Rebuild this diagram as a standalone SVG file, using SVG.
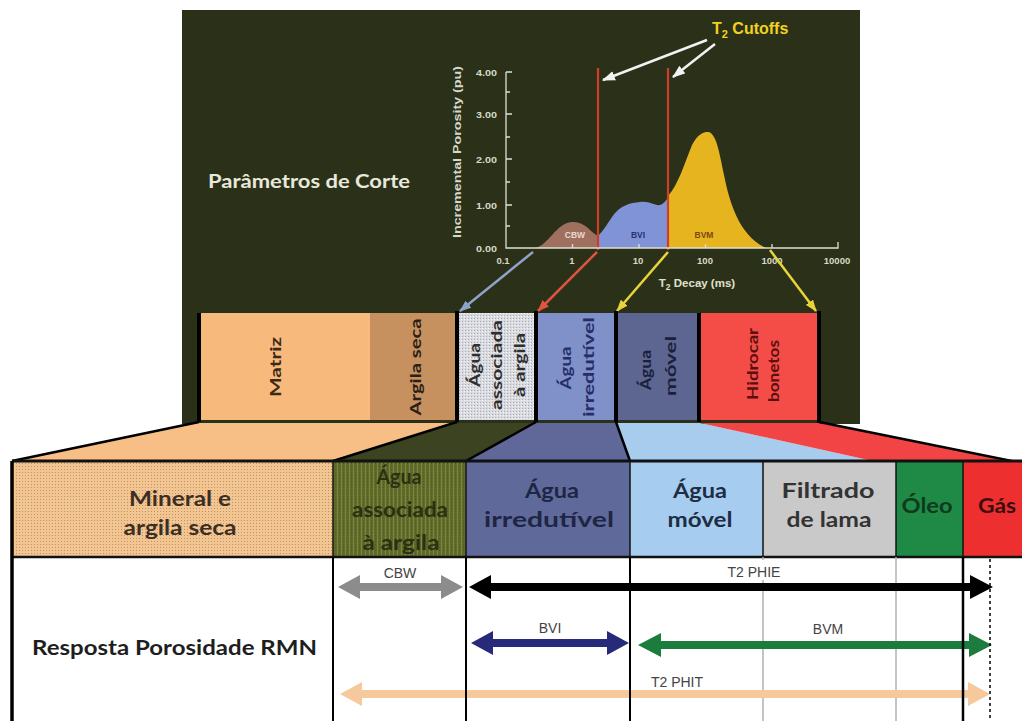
<svg xmlns="http://www.w3.org/2000/svg" width="1022" height="721" viewBox="0 0 1022 721">
<style>
.lb{font-family:Lato,"Open Sans",sans-serif;font-weight:700}
.ch{font-family:"Liberation Sans",Arial,sans-serif;font-weight:700}
.ar{font-family:"Liberation Sans",Arial,sans-serif;font-size:14px;fill:#444}
.vt{font-size:16px;text-anchor:middle}
.bt{font-size:20px;text-anchor:middle}
.tick{stroke:#e0e0d0;stroke-width:1.3;fill:none}
.sep{stroke:#000;stroke-width:4}
.edge{stroke:#000;stroke-width:2.5;fill:none}
</style>
<defs>
<pattern id="pMin" width="3" height="3" patternUnits="userSpaceOnUse"><rect width="3" height="3" fill="#f3c590"/><rect x="1" y="1" width="1" height="1" fill="#b8926a"/></pattern>
<pattern id="pAssoc" width="4" height="3" patternUnits="userSpaceOnUse"><rect width="4" height="3" fill="#5f6a2b"/><rect x="1" width="1" height="3" fill="#7c873c"/><rect x="3" y="1" width="1" height="1" fill="#4e5822"/></pattern>
<pattern id="pGray" width="3" height="3" patternUnits="userSpaceOnUse"><rect width="3" height="3" fill="#dadbe0"/><rect width="1" height="1" fill="#a9abb4"/><rect x="2" y="1" width="1" height="1" fill="#f4f4f6"/></pattern>
<marker id="mW" viewBox="0 0 12 9" refX="11" refY="4.5" markerWidth="13" markerHeight="10" markerUnits="userSpaceOnUse" orient="auto"><path d="M0,0 L12,4.5 L0,9 z" fill="#f2f2f2"/></marker>
<marker id="mB" viewBox="0 0 12 9" refX="11" refY="4.5" markerWidth="12" markerHeight="9" markerUnits="userSpaceOnUse" orient="auto"><path d="M0,0 L12,4.5 L0,9 z" fill="#8ea2cc"/></marker>
<marker id="mR" viewBox="0 0 12 9" refX="11" refY="4.5" markerWidth="12" markerHeight="9" markerUnits="userSpaceOnUse" orient="auto"><path d="M0,0 L12,4.5 L0,9 z" fill="#df5440"/></marker>
<marker id="mY" viewBox="0 0 12 9" refX="11" refY="4.5" markerWidth="12" markerHeight="9" markerUnits="userSpaceOnUse" orient="auto"><path d="M0,0 L12,4.5 L0,9 z" fill="#e8d43a"/></marker>
</defs>
<rect width="1022" height="721" fill="#fff"/>
<rect id="panel" x="182" y="10" width="678" height="414" fill="#2b3119"/>
<text class="lb" x="208" y="188" font-size="18" fill="#e8e8dc" textLength="202" lengthAdjust="spacingAndGlyphs">Parâmetros de Corte</text>

<g id="chart">
<path d="M535,248 C548,246 556,223 572,222 C585,221 590,232 598,236 L598,248 Z" fill="#a0705f"/>
<path d="M598,248 L598,236 C603,231 606,226 612,217 C620,205 630,203 640,202 C650,201 655,206 660,205 C664,204 666,200 668,198 L668,248 Z" fill="#7f93d6"/>
<path d="M668,248 L668,196 C678,185 684,165 692,145 C698,134 703,132 708,132 C716,133 719,150 724,175 C730,205 740,236 766,248 Z" fill="#e6b41f"/>
<line x1="598" y1="68" x2="598" y2="250" stroke="#cf3d2b" stroke-width="2.2"/>
<line x1="668" y1="68" x2="668" y2="250" stroke="#cf3d2b" stroke-width="2.2"/>
<path class="tick" d="M506,72 V248 H838 V242 M506,72 H512 M506,92 H510 M506,114 H512 M506,137 H510 M506,159 H512 M506,182 H510 M506,205 H512 M506,226 H510 M572.5,248 V244 M639,248 V244 M705.5,248 V244 M772,248 V244"/>
<g class="ch" font-size="9.5" fill="#d8d8c8" text-anchor="end">
<text x="497" y="76" textLength="21" lengthAdjust="spacingAndGlyphs">4.00</text><text x="497" y="118" textLength="21" lengthAdjust="spacingAndGlyphs">3.00</text><text x="497" y="163" textLength="21" lengthAdjust="spacingAndGlyphs">2.00</text><text x="497" y="209" textLength="21" lengthAdjust="spacingAndGlyphs">1.00</text><text x="497" y="252" textLength="21" lengthAdjust="spacingAndGlyphs">0.00</text>
</g>
<g class="ch" font-size="9.5" fill="#d8d8c8" text-anchor="middle">
<text x="503" y="264">0.1</text><text x="572" y="264">1</text><text x="638" y="264">10</text><text x="705" y="264">100</text><text x="772" y="264">1000</text><text x="837" y="264">10000</text>
</g>
<text class="ch" font-size="10" fill="#d8d8c8" text-anchor="middle" transform="translate(461,152) rotate(-90)" textLength="172" lengthAdjust="spacingAndGlyphs">Incremental Porosity (pu)</text>
<text class="ch" font-size="11.5" fill="#e0e0d0" text-anchor="middle" x="697" y="287">T<tspan font-size="8.5" dy="3">2</tspan><tspan dy="-3"> Decay (ms)</tspan></text>
<text class="ch" font-size="8.5" fill="#ead8d0" text-anchor="middle" x="575" y="238">CBW</text>
<text class="ch" font-size="8.5" fill="#2a3270" text-anchor="middle" x="638" y="238">BVI</text>
<text class="ch" font-size="8.5" fill="#7a4a10" text-anchor="middle" x="704" y="238">BVM</text>
<text class="ch" font-size="16" fill="#f2d21e" x="712" y="34">T<tspan font-size="11" dy="4">2</tspan><tspan dy="-4"> Cutoffs</tspan></text>
</g>

<g id="connectors">
<line x1="707" y1="40" x2="603" y2="80" stroke="#f2f2f2" stroke-width="2.5" marker-end="url(#mW)"/>
<line x1="715" y1="44" x2="673" y2="77" stroke="#f2f2f2" stroke-width="2.5" marker-end="url(#mW)"/>
<line x1="533" y1="252" x2="460" y2="311" stroke="#8ea2cc" stroke-width="2.5" marker-end="url(#mB)"/>
<line x1="597" y1="252" x2="538" y2="311" stroke="#df5440" stroke-width="2.5" marker-end="url(#mR)"/>
<line x1="668" y1="252" x2="617" y2="311" stroke="#e8d43a" stroke-width="2.5" marker-end="url(#mY)"/>
<line x1="770" y1="250" x2="816" y2="311" stroke="#e8d43a" stroke-width="2.5" marker-end="url(#mY)"/>
</g>

<g id="box-matriz"><rect x="197" y="313" width="173" height="107" fill="#f7b97c"/>
<text class="lb vt" fill="#3a2a18" transform="translate(281,367) rotate(-90)" textLength="60" lengthAdjust="spacingAndGlyphs">Matriz</text></g>
<g id="box-argila"><rect x="370" y="313" width="86" height="107" fill="#c6915e"/>
<text class="lb vt" fill="#2a2018" transform="translate(421,367) rotate(-90)" textLength="97" lengthAdjust="spacingAndGlyphs">Argila seca</text></g>
<g id="box-assoc"><rect x="456" y="313" width="80" height="107" fill="url(#pGray)"/>
<text class="lb vt" fill="#2e2e2e" transform="translate(480,365) rotate(-90)" textLength="44" lengthAdjust="spacingAndGlyphs">Água</text>
<text class="lb vt" fill="#2e2e2e" transform="translate(502,365) rotate(-90)" textLength="90" lengthAdjust="spacingAndGlyphs">associada</text>
<text class="lb vt" fill="#2e2e2e" transform="translate(525,365) rotate(-90)" textLength="64" lengthAdjust="spacingAndGlyphs">à argila</text></g>
<g id="box-irred"><rect x="536" y="313" width="80" height="107" fill="#8090c8"/>
<text class="lb vt" fill="#262e6a" transform="translate(571,368) rotate(-90)" textLength="43" lengthAdjust="spacingAndGlyphs">Água</text>
<text class="lb vt" fill="#262e6a" transform="translate(594,367) rotate(-90)" textLength="100" lengthAdjust="spacingAndGlyphs">irredutível</text></g>
<g id="box-movel"><rect x="616" y="313" width="83" height="107" fill="#5d6591"/>
<text class="lb vt" fill="#1b1f3a" transform="translate(651,370) rotate(-90)" textLength="40" lengthAdjust="spacingAndGlyphs">Água</text>
<text class="lb vt" fill="#1b1f3a" transform="translate(676,366) rotate(-90)" textLength="60" lengthAdjust="spacingAndGlyphs">móvel</text></g>
<g id="box-hidro"><rect x="699" y="313" width="120" height="107" fill="#f44c47"/>
<text class="lb vt" fill="#5a1010" transform="translate(758,364) rotate(-90)" textLength="72" lengthAdjust="spacingAndGlyphs">Hidrocar</text>
<text class="lb vt" fill="#5a1010" transform="translate(779,371) rotate(-90)" textLength="62" lengthAdjust="spacingAndGlyphs">bonetos</text></g>
<g id="box-seps">
<line class="sep" x1="199" y1="313" x2="199" y2="422" stroke-width="5"/>
<line class="sep" x1="457" y1="311" x2="457" y2="422"/>
<line class="sep" x1="536" y1="311" x2="536" y2="422"/>
<line class="sep" x1="616" y1="311" x2="616" y2="422"/>
<line class="sep" x1="699" y1="313" x2="699" y2="422" stroke-width="2.5" stroke="#1a1a1a"/>
<line class="sep" x1="819" y1="311" x2="819" y2="424" stroke-width="5"/>
</g>

<g id="trapezoids">
<polygon points="197,423 457,423 333,461 12,461" fill="#f7bf85"/>
<polygon points="457,423 536,423 466,461 333,461" fill="#3b4320"/>
<polygon points="536,423 616,423 630,461 466,461" fill="#5f6898"/>
<polygon points="616,423 700,423 873,461 630,461" fill="#a8ccee"/>
<polygon points="700,423 819,423 1022,462 1022,461 873,461" fill="#f24444"/>
<line class="edge" x1="199" y1="422" x2="12" y2="461" stroke-width="3"/>
<line class="edge" x1="457" y1="422" x2="333" y2="461"/>
<line class="edge" x1="536" y1="422" x2="466" y2="461"/>
<line class="edge" x1="616" y1="422" x2="630" y2="461"/>
<line class="edge" x1="819" y1="422" x2="1022" y2="463" stroke-width="3"/>
</g>

<g id="band-mineral"><rect x="12" y="461" width="321" height="96" fill="url(#pMin)"/>
<text class="lb bt" fill="#3b2f25" x="180" y="506" textLength="102" lengthAdjust="spacingAndGlyphs">Mineral e</text>
<text class="lb bt" fill="#3b2f25" x="180" y="535" textLength="113" lengthAdjust="spacingAndGlyphs">argila seca</text></g>
<g id="band-assoc"><rect x="333" y="461" width="133" height="96" fill="url(#pAssoc)"/>
<text class="lb bt" fill="#2c3012" x="399" y="484" textLength="45" lengthAdjust="spacingAndGlyphs">Água</text>
<text class="lb bt" fill="#2c3012" x="400" y="517" textLength="96" lengthAdjust="spacingAndGlyphs">associada</text>
<text class="lb bt" fill="#2c3012" x="401" y="550" textLength="77" lengthAdjust="spacingAndGlyphs">à argila</text></g>
<g id="band-irred"><rect x="466" y="461" width="164" height="96" fill="#5f6a9a"/>
<text class="lb bt" fill="#1f2544" x="552" y="498" textLength="54" lengthAdjust="spacingAndGlyphs">Água</text>
<text class="lb bt" fill="#1f2544" x="549" y="527" textLength="130" lengthAdjust="spacingAndGlyphs">irredutível</text></g>
<g id="band-movel"><rect x="630" y="461" width="133" height="96" fill="#a6cdef"/>
<text class="lb bt" fill="#1f2d44" x="700" y="498" textLength="54" lengthAdjust="spacingAndGlyphs">Água</text>
<text class="lb bt" fill="#1f2d44" x="700" y="527" textLength="65" lengthAdjust="spacingAndGlyphs">móvel</text></g>
<g id="band-filtrado"><rect x="763" y="461" width="133" height="96" fill="#c9c9c9"/>
<text class="lb bt" fill="#333" x="828" y="498" textLength="93" lengthAdjust="spacingAndGlyphs">Filtrado</text>
<text class="lb bt" fill="#333" x="829" y="527" textLength="85" lengthAdjust="spacingAndGlyphs">de lama</text></g>
<g id="band-oleo"><rect x="896" y="461" width="67" height="96" fill="#1f8a46"/>
<text class="lb bt" fill="#0e3a1e" x="927" y="513" textLength="51" lengthAdjust="spacingAndGlyphs">Óleo</text></g>
<g id="band-gas"><rect x="963" y="461" width="59" height="96" fill="#ee2f2f"/>
<text class="lb bt" fill="#3a0e0e" x="997" y="513" textLength="38" lengthAdjust="spacingAndGlyphs">Gás</text></g>
<g id="band-lines" stroke="#111" fill="none">
<line x1="12" y1="461" x2="1022" y2="461" stroke-width="3"/>
<line x1="12" y1="557" x2="1022" y2="557" stroke-width="2.5"/>
<line x1="333" y1="461" x2="333" y2="557" stroke-width="1.5"/>
<line x1="466" y1="461" x2="466" y2="557" stroke-width="1.5"/>
<line x1="630" y1="461" x2="630" y2="557" stroke-width="1.5"/>
<line x1="763" y1="461" x2="763" y2="557" stroke-width="1.5"/>
<line x1="896" y1="461" x2="896" y2="557" stroke-width="1.5"/>
<line x1="963" y1="461" x2="963" y2="557" stroke-width="1.5"/>
</g>

<g id="response">
<line x1="763" y1="557" x2="763" y2="721" stroke="#b0b0b0" stroke-width="1.5"/>
<line x1="896" y1="557" x2="896" y2="721" stroke="#b0b0b0" stroke-width="1.5"/>
<text class="lb" font-size="20" fill="#1e1e1e" x="32" y="655" textLength="285" lengthAdjust="spacingAndGlyphs">Resposta Porosidade RMN</text>
<polygon points="338,587 360,575 360,583 441,583 441,575 463,587 441,599 441,591 360,591 360,599" fill="#8c8c8c"/>
<rect x="720" y="560" width="68" height="20" fill="#fff"/>
<polygon points="469,587 491,575 491,583 970,583 970,575 993,587 970,599 970,591 491,591 491,599" fill="#000"/>
<polygon points="471,643 493,631 493,639 607,639 607,631 629,643 607,655 607,647 493,647 493,655" fill="#262a78"/>
<polygon points="638,645 661,633 661,641 969,641 969,633 992,645 969,657 969,649 661,649 661,657" fill="#1b7c3d"/>
<polygon points="340,694 362,682 362,690 968,690 968,682 990,694 968,706 968,698 362,698 362,706" fill="#f5c99b"/>
<text class="ar" x="400" y="578" text-anchor="middle">CBW</text>
<text class="ar" x="754" y="577" text-anchor="middle">T2 PHIE</text>
<text class="ar" x="550" y="633" text-anchor="middle">BVI</text>
<text class="ar" x="828" y="634" text-anchor="middle">BVM</text>
<text class="ar" x="677" y="687" text-anchor="middle">T2 PHIT</text>
<g stroke="#000" fill="none">
<line x1="12" y1="461" x2="12" y2="721" stroke-width="3.5"/>
<line x1="333" y1="557" x2="333" y2="721" stroke-width="2"/>
<line x1="466" y1="557" x2="466" y2="721" stroke-width="2"/>
<line x1="630" y1="557" x2="630" y2="721" stroke-width="2"/>
<line x1="963" y1="557" x2="963" y2="721" stroke-width="2.5"/>
<line x1="990" y1="559" x2="990" y2="721" stroke-width="1.5" stroke-dasharray="3,3"/>
</g>
</g>
</svg>
